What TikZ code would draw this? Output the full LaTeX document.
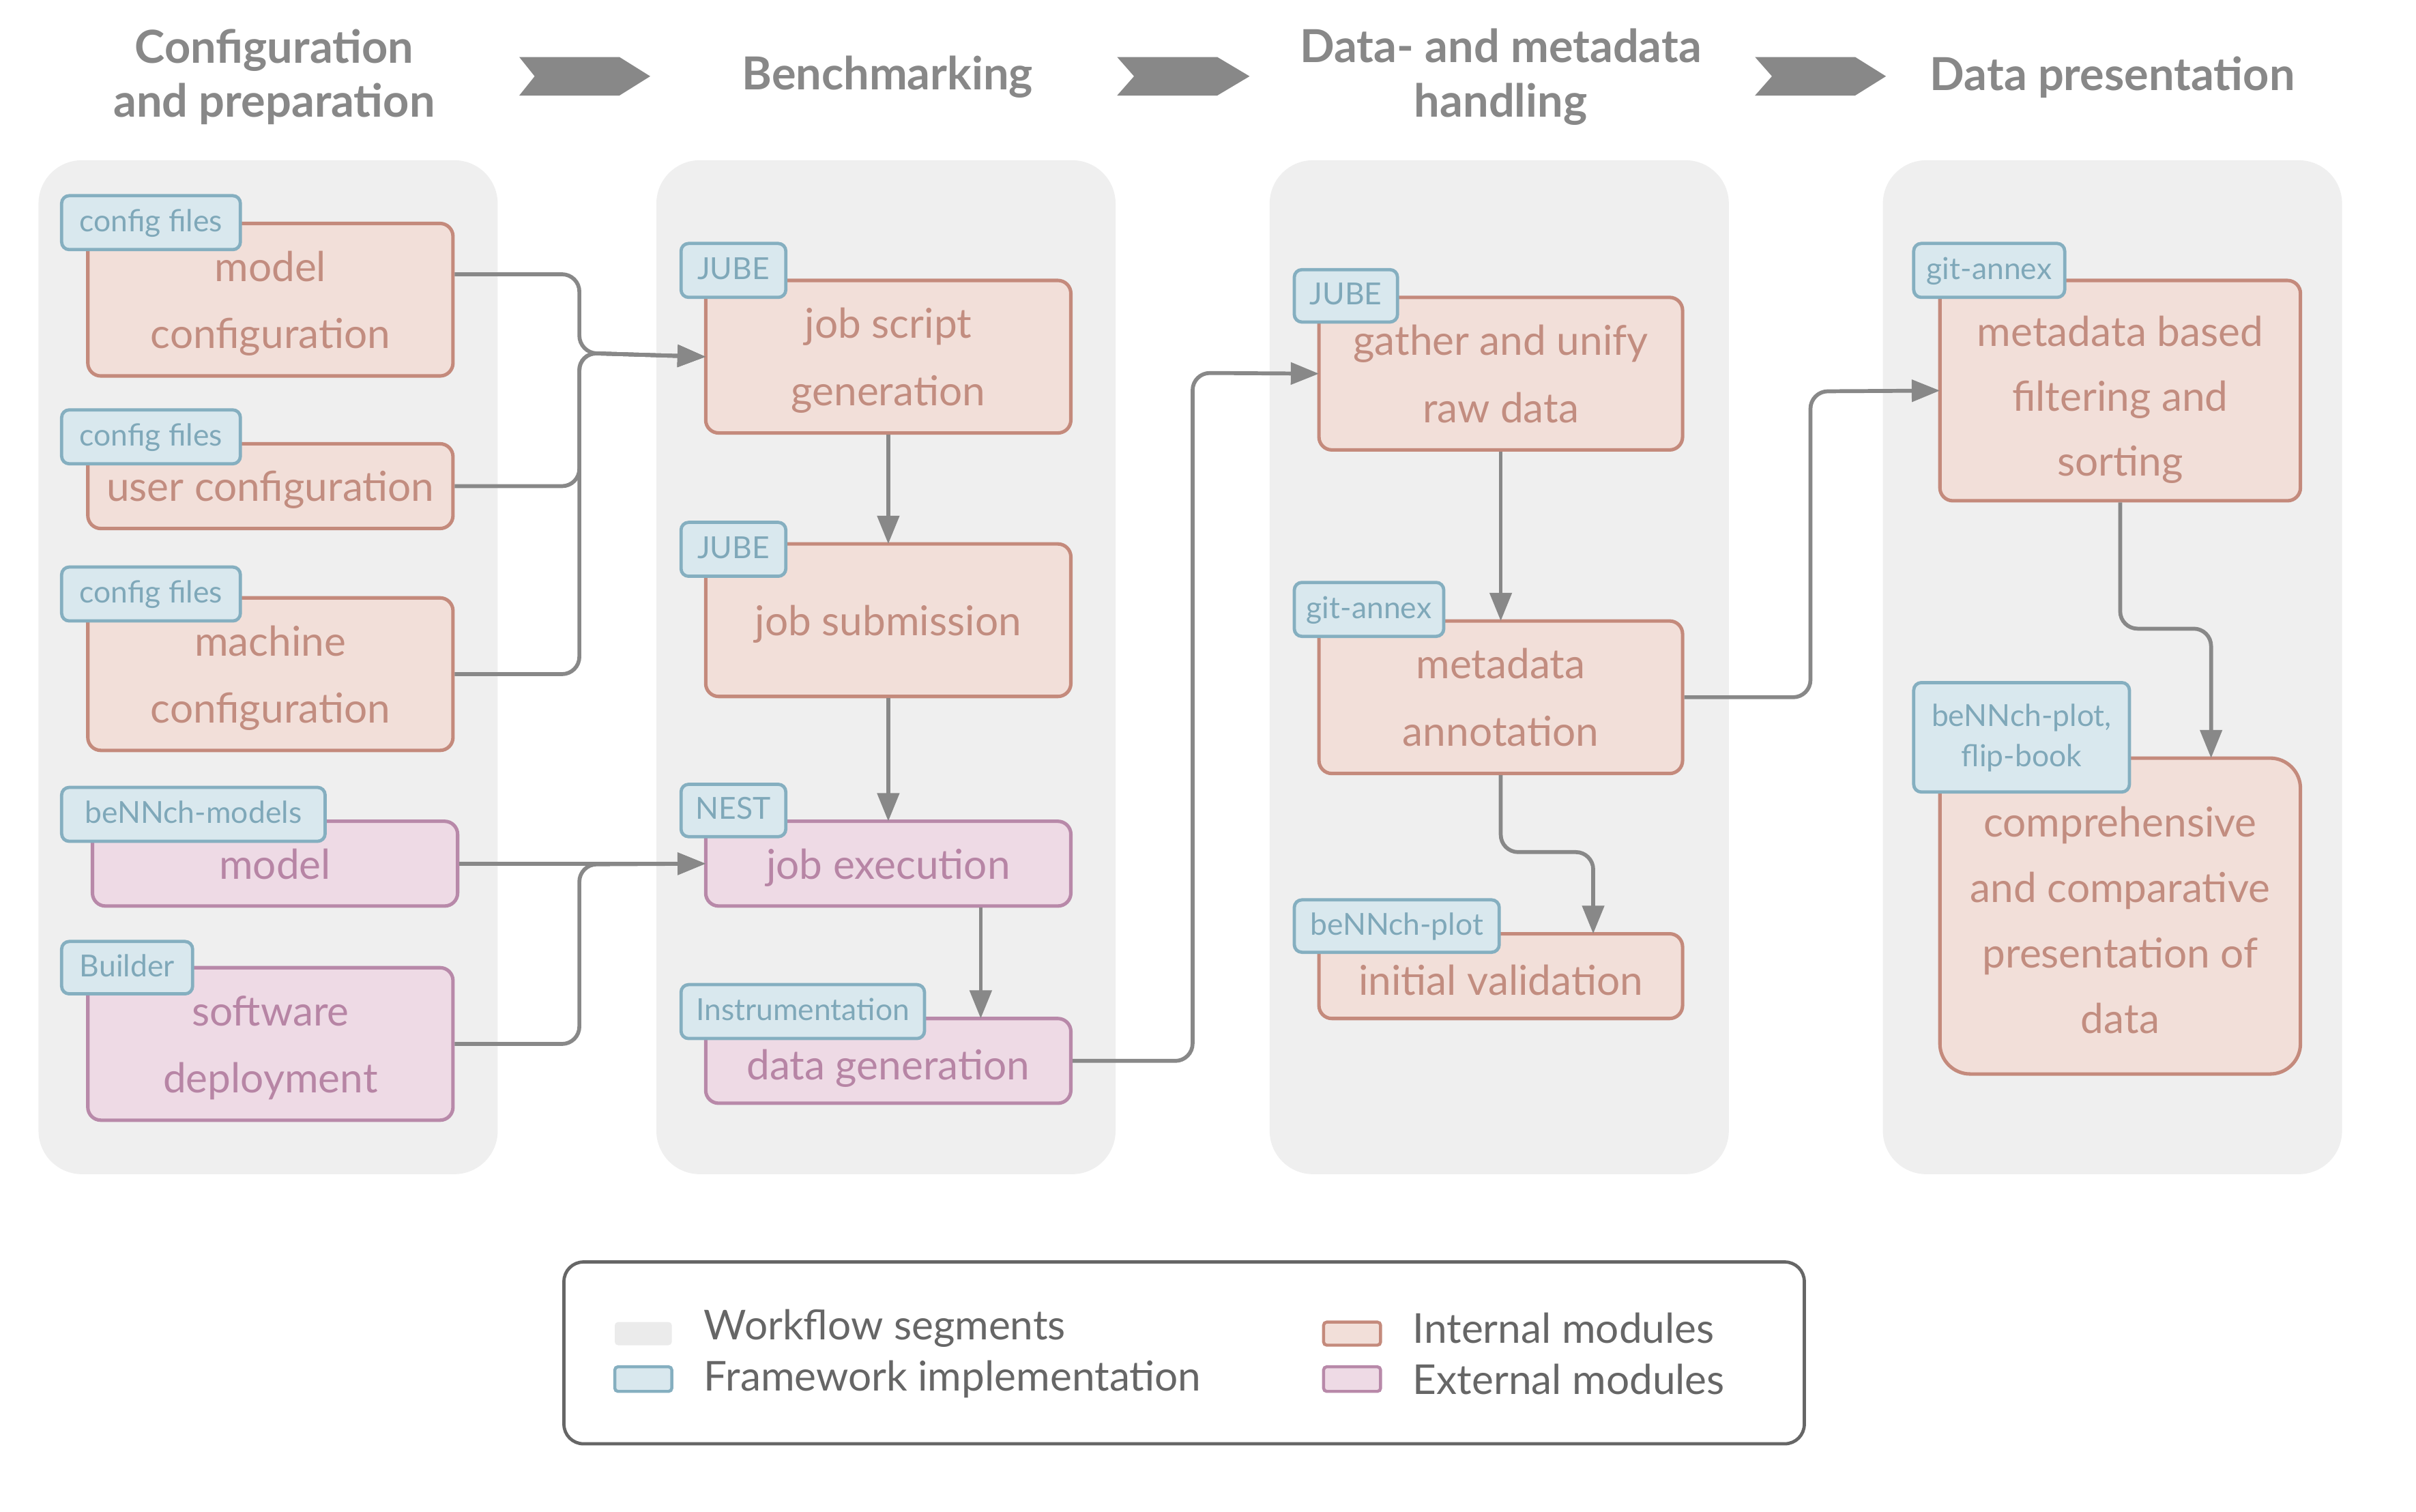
\documentclass[tikz,border=0pt]{standalone}
\usepackage{fontspec}
\setmainfont{Lato}
\usetikzlibrary{arrows.meta,calc}
\definecolor{panel}{HTML}{EFEFEF}
\definecolor{intfill}{HTML}{F2DFD9}
\definecolor{intdraw}{HTML}{C48A7C}
\definecolor{inttext}{HTML}{C28D80}
\definecolor{extfill}{HTML}{EEDAE5}
\definecolor{extdraw}{HTML}{B889A9}
\definecolor{exttext}{HTML}{B785A5}
\definecolor{tagfill}{HTML}{D9E8EE}
\definecolor{tagdraw}{HTML}{85AFC0}
\definecolor{tagtext}{HTML}{7FA8B9}
\definecolor{conncol}{HTML}{888888}
\definecolor{headcol}{HTML}{888888}
\definecolor{legcol}{HTML}{666666}
\definecolor{legsw}{HTML}{EBEBEB}
% struts that fix the vertical placement of text inside boxes
\newcommand{\bs}{\rule[-4pt]{0pt}{22pt}}
\newcommand{\bsl}{\rule[-4pt]{0pt}{25.5pt}}
\newcommand{\ts}{\rule[-3.4pt]{0pt}{15pt}}
\tikzset{
  spanbox/.style args={#1/#2/#3/#4}{minimum width={(#3-#1)*0.025cm}, minimum height={(#4-#2)*0.025cm},
    at={({(#1+#3)/2},{(#2+#4)/2})}},
  panelbox/.style={fill=panel, draw=none, rounded corners=20pt, inner sep=0pt},
  intbox/.style={fill=intfill, draw=intdraw, line width=1.6pt, rounded corners=6pt, inner sep=0pt,
    text=inttext, align=center, font=\fontsize{19}{31}\selectfont},
  extbox/.style={intbox, fill=extfill, draw=extdraw, text=exttext},
  tagbox/.style={fill=tagfill, draw=tagdraw, line width=1.5pt, rounded corners=3.5pt, inner sep=0pt,
    text=tagtext, align=center, font=\fontsize{14}{18.5}\selectfont},
  conn/.style={draw=conncol, line width=1.8pt, rounded corners=8pt},
  arr/.style={conn, -{Triangle[length=13pt,width=10pt]}, shorten >=-0.8pt},
  headtext/.style={text=headcol, font=\fontsize{21}{25}\selectfont\bfseries, align=center},
  chev/.style={fill=conncol, draw=none},
  legtext/.style={text=legcol, anchor=west, font=\fontsize{19}{22}\selectfont},
  swatch/.style={inner sep=0pt, rounded corners=1.5pt, line width=1.4pt}
}
\begin{document}
\begin{tikzpicture}[x=0.025cm,y=-0.025cm]
\useasboundingbox (0,0) rectangle (1568,981);
\fill[white] (0,0) rectangle (1568,981);

% panels
\node[panelbox, spanbox=25/104/323/762] (p1) {};
\node[panelbox, spanbox=426/104/724/762] (p2) {};
\node[panelbox, spanbox=824/104/1122/762] (p3) {};
\node[panelbox, spanbox=1222/104/1520/762] (p4) {};

% headers
\node[headtext] (h1) at (178,50) {Configuration\\and preparation};
\node[headtext] (h2) at (576,50) {Benchmarking};
\node[headtext] (h3) at (974,50) {Data- and metadata\\handling};
\node[headtext] (h4) at (1371,50) {Data presentation};
\fill[chev] (337,37) -- (402,37) -- (422,49.5) -- (402,62) -- (337,62) -- (347,49.5) -- cycle;
\fill[chev] (725,37) -- (790,37) -- (811,49.5) -- (790,62) -- (725,62) -- (736,49.5) -- cycle;
\fill[chev] (1139,37) -- (1204,37) -- (1224,49.5) -- (1204,62) -- (1139,62) -- (1150,49.5) -- cycle;

% column 1
\node[intbox, spanbox=57/145/294/244] (mc) {\bs model\\\bs configuration};
\node[intbox, spanbox=57/288/294/343] (uc) {\bs user configuration};
\node[intbox, spanbox=57/388/294/487] (mac) {\bs machine\\\bs configuration};
\node[extbox, spanbox=60/533/297/588] (mo) {\bs model};
\node[extbox, spanbox=57/628/294/727] (sd) {\bs software\\\bs deployment};
\node[tagbox, spanbox=40/127/156/162] (t1) {\ts config files};
\node[tagbox, spanbox=40/266/156/301] (t2) {\ts config files};
\node[tagbox, spanbox=40/368/156/403] (t3) {\ts config files};
\node[tagbox, spanbox=40/511/211/546] (t4) {\ts beNNch-models};
\node[tagbox, spanbox=40/611/125/645] (t5) {\ts Builder};

% column 2
\node[intbox, spanbox=458/182/695/281] (js) {\bs job script\\\bs generation};
\node[intbox, spanbox=458/353/695/452] (jsub) {\bs job submission};
\node[extbox, spanbox=458/533/695/588] (je) {\bs job execution};
\node[extbox, spanbox=458/661/695/716] (dg) {\bsl data generation};
\node[tagbox, spanbox=442/158/510/193] (t6) {\ts JUBE};
\node[tagbox, spanbox=442/339/510/374] (t7) {\ts JUBE};
\node[tagbox, spanbox=442/509/510/543] (t8) {\ts NEST};
\node[tagbox, spanbox=442/639/600/674] (t9) {\ts Instrumentation};

% column 3
\node[intbox, spanbox=856/193/1092/292] (gr) {\bs gather and unify\\\bs raw data};
\node[intbox, spanbox=856/403/1092/502] (ma) {\bs metadata\\\bs annotation};
\node[intbox, spanbox=856/606/1092/661] (iv) {\bsl initial validation};
\node[tagbox, spanbox=840/175/907/209] (t10) {\ts JUBE};
\node[tagbox, spanbox=840/378/937/413] (t11) {\ts git-annex};
\node[tagbox, spanbox=840/584/973/618] (t12) {\ts beNNch-plot};

% column 4
\node[intbox, font=\fontsize{19}{30}\selectfont, spanbox=1259/182/1493/325] (mf) {\rule[-4pt]{0pt}{27pt}metadata based\\filtering and\\\bs sorting};
\node[intbox, font=\fontsize{19}{30.3}\selectfont, rounded corners=14pt, spanbox=1259/492/1493/697] (cp) {\bsl comprehensive\\and comparative\\presentation of\\\bs data};
\node[tagbox, spanbox=1242/158/1340/193] (t13) {\ts git-annex};
\node[tagbox, spanbox=1242/443/1382/514] (t14) {\ts beNNch-plot,\\\ts flip-book};

% connectors
\coordinate (m1) at (376,229);
\coordinate (m2) at (376,561);
\coordinate (m3) at (774,242);
\coordinate (m4) at (1175,254);
\coordinate (m5) at (1034,553);
\coordinate (m6) at (1435,408);
\draw[arr] ($(mc.east)+(0,-16.5)$) -| (m1) -- (js.west);
\draw[arr] (uc.east) -| (m1) -- (js.west);
\draw[arr] (mac.east) -| (m1) -- (js.west);
\draw[arr] (mo.east) -- (je.west);
\draw[arr] (sd.east) -| (m2) -- (je.west);
\draw[arr] (js.south) -- (jsub.north);
\draw[arr] (jsub.south) -- (je.north);
\draw[arr] ($(je.south)+(60,0)$) -- ($(dg.north)+(60,0)$);
\draw[arr] (dg.east) -| (m3) -- (gr.west);
\draw[arr] (gr.south) -- (ma.north);
\draw[arr] (ma.south) |- (m5) -- ($(iv.north)+(60,0)$);
\draw[arr] (ma.east) -| (m4) -- (mf.west);
\draw[arr] (mf.south) |- (m6) -- ($(cp.north)+(59,0)$);

% legend
\node[draw=legcol, line width=1.5pt, rounded corners=9pt, inner sep=0pt, spanbox=366/819/1171/937] (leg) {};
\node[swatch, fill=legsw, spanbox=399/858/436/873] (sw1) {};
\node[swatch, fill=tagfill, draw=tagdraw, spanbox=399/887/436/903] (sw2) {};
\node[swatch, fill=intfill, draw=intdraw, spanbox=859/858/896/873] (sw3) {};
\node[swatch, fill=extfill, draw=extdraw, spanbox=859/887/896/903] (sw4) {};
\node[legtext] (l1) at (452,862) {Workflow segments};
\node[legtext] (l2) at (452,895) {Framework implementation};
\node[legtext] (l3) at (912,862) {Internal modules};
\node[legtext] (l4) at (912,895) {External modules};
\end{tikzpicture}
\end{document}
